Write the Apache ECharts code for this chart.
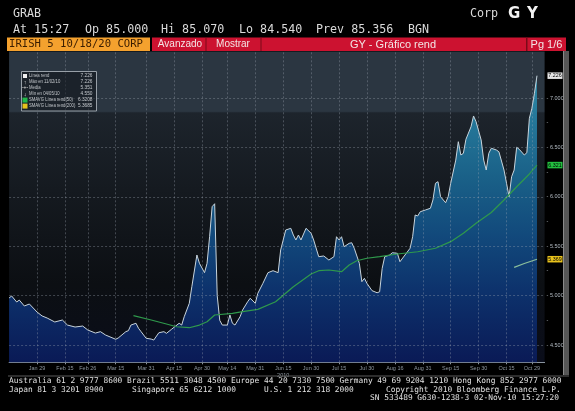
<!DOCTYPE html>
<html>
<head>
<meta charset="utf-8">
<script src="https://cdn.jsdelivr.net/npm/echarts@6/dist/echarts.min.js"></script>
<style>
  html, body { margin: 0; padding: 0; background: #000; }
  #c { width: 575px; height: 411px; }
</style>
</head>
<body>
<div id="c"></div>
<script>
// rendimiento IRISH 5 10/18/20, [fecha, valor]
const yieldPts = [
  ['01/14',4.976],['01/15',4.996],['01/19',4.935],['01/20',4.955],['01/22',4.895],['01/26',4.915],
  ['01/29',4.834],['02/02',4.794],['02/04',4.773],['02/09',4.733],['02/12',4.753],['02/16',4.702],
  ['02/19',4.682],['02/24',4.692],['02/26',4.652],['03/03',4.621],['03/05',4.635],['03/09',4.601],
  ['03/15',4.558],['03/16',4.571],['03/19',4.635],['03/22',4.645],['03/23',4.702],['03/25',4.720],
  ['03/26',4.669],['03/29',4.635],['03/31',4.568],['04/02',4.560],['04/05',4.550],['04/07',4.624],
  ['04/09',4.635],['04/12',4.618],['04/14',4.659],['04/19',4.720],['04/20',4.702],['04/21',4.786],
  ['04/23',4.922],['04/26',5.090],['04/28',5.411],['04/29',5.327],['05/03',5.232],['05/04',5.327],
  ['05/05',5.596],['05/06',5.900],['05/07',5.930],['05/10',5.000],['05/11',4.750],['05/12',4.702],
  ['05/14',4.702],['05/17',4.804],['05/18',4.720],['05/19',4.702],['05/21',4.786],['05/24',4.854],
  ['05/26',4.938],['05/27',4.973],['05/31',4.922],['06/01',5.023],['06/03',5.124],['06/07',5.232],
  ['06/09',5.252],['06/11',5.232],['06/14',5.462],['06/16',5.664],['06/18',5.681],['06/21',5.613],
  ['06/22',5.563],['06/23',5.613],['06/24',5.563],['06/28',5.681],['06/30',5.631],['07/01',5.563],
  ['07/05',5.394],['07/07',5.401],['07/09',5.360],['07/13',5.394],['07/14',5.596],['07/15',5.563],
  ['07/16',5.596],['07/19',5.495],['07/21',5.529],['07/22',5.535],['07/23',5.479],['07/27',5.327],
  ['07/28',5.141],['07/29',5.175],['07/30',5.124],['08/03',5.050],['08/05',5.029],['08/06',5.039],
  ['08/09',5.276],['08/10',5.394],['08/12',5.411],['08/13',5.434],['08/17',5.428],['08/18',5.343],
  ['08/20',5.411],['08/24',5.479],['08/25',5.596],['08/26',5.816],['08/27',5.806],['08/30',5.849],
  ['09/01',5.866],['09/03',5.884],['09/06',5.968],['09/07',6.137],['09/08',6.153],['09/09',6.001],
  ['09/13',5.940],['09/14',6.001],['09/15',6.137],['09/17',6.372],['09/20',6.558],['09/21',6.423],
  ['09/22',6.440],['09/23',6.582],['09/27',6.709],['09/28',6.818],['09/29',6.760],['10/01',6.575],
  ['10/04',6.372],['10/05',6.271],['10/06',6.440],['10/07',6.491],['10/11',6.474],['10/12',6.456],
  ['10/14',6.271],['10/15',6.137],['10/18',6.001],['10/19',6.203],['10/20',6.271],['10/21',6.501],
  ['10/22',6.481],['10/26',6.423],['10/27',6.446],['10/28',6.795],['10/29',6.896],['11/01',7.048],
  ['11/02',7.226]
];
// SMAVG (50)
const sma50Pts = [
  ['03/24',4.797],['04/02',4.753],['04/12',4.713],['04/16',4.685],['04/23',4.675],['04/29',4.702],
  ['05/04',4.736],['05/07',4.804],['05/18',4.821],['05/24',4.837],['06/01',4.861],['06/10',4.938],
  ['06/21',5.090],['06/30',5.219],['07/05',5.252],['07/09',5.259],['07/16',5.242],['07/21',5.310],
  ['07/26',5.353],['07/30',5.378],['08/06',5.394],['08/17',5.421],['08/27',5.444],['09/07',5.479],
  ['09/15',5.546],['09/22',5.631],['09/29',5.732],['10/07',5.841],['10/14',5.968],['10/21',6.102],
  ['10/28',6.231],['11/02',6.321]
];
// SMAVG (200)
const sma200Pts = [['10/20',5.286],['10/26',5.325],['11/02',5.3685]];

const tickDays = ['01/29','02/15','02/26','03/15','03/31','04/15','04/30','05/14','05/31','06/15',
  '06/30','07/15','07/30','08/16','08/31','09/15','09/30','10/15','10/29'];
const tickLabels = ['Jan 29','Feb 15','Feb 26','Mar 15','Mar 31','Apr 15','Apr 30','May 14','May 31','Jun 15\n2010',
  'Jun 30','Jul 15','Jul 30','Aug 16','Aug 31','Sep 15','Sep 30','Oct 15','Oct 29'];
const yGrid = [4.5, 5.0, 5.5, 6.0, 6.5, 7.0];

const legendRows = [
  ['Línea rend', '7.226'],
  ['Máx en 11/02/10', '7.226'],
  ['Media', '5.351'],
  ['Mín en 04/05/10', '4.550'],
  ['SMAVG Línea rend(50)', '6.3208'],
  ['SMAVG Línea rend(200)', '5.3685']
];
const endTags = ['7.226', '6.321', '5.369'];

// dias habiles 14-ene .. 05-nov 2010
const tradeDays = [];
for (let d = new Date(Date.UTC(2010, 0, 14)); d <= new Date(Date.UTC(2010, 10, 5)); d.setUTCDate(d.getUTCDate() + 1)) {
  const w = d.getUTCDay();
  if (w === 0 || w === 6) continue;
  tradeDays.push(String(d.getUTCMonth() + 1).padStart(2, '0') + '/' + String(d.getUTCDate()).padStart(2, '0'));
}

const mono = '"DejaVu Sans Mono", monospace';
const sans = '"Liberation Sans", Arial, sans-serif';

function txt(x, y, s, font, fill, align, sx) {
  return { type: 'text', x: x, y: y, z: 110, silent: true, scaleX: sx || 1,
    style: { text: s, font: font, fill: fill, align: align || 'left', verticalAlign: 'middle',
             textAlign: align || 'left', textVerticalAlign: 'middle' } };
}
function box(x, y, w, h, fill, stroke) {
  return { type: 'rect', z: 100, silent: true, shape: { x: x, y: y, width: w, height: h },
    style: { fill: fill, stroke: stroke || null, lineWidth: stroke ? 1 : 0 } };
}

const graphics = [
  // cabecera
  txt(13, 14, 'GRAB', '11.7px ' + mono, '#dadada'),
  txt(470, 14, 'Corp', '11.7px ' + mono, '#dadada'),
  txt(508, 14, 'G', 'bold 15px "DejaVu Sans"', '#f2f2f2'),
  txt(527, 14, 'Y', 'bold 15px "DejaVu Sans"', '#f2f2f2'),
  txt(13, 30, 'At 15:27', '11.7px ' + mono, '#dadada'),
  txt(85, 30, 'Op 85.000', '11.7px ' + mono, '#dadada'),
  txt(161, 30, 'Hi 85.070', '11.7px ' + mono, '#dadada'),
  txt(239, 30, 'Lo 84.540', '11.7px ' + mono, '#dadada'),
  txt(316, 30, 'Prev 85.356', '11.7px ' + mono, '#dadada'),
  txt(408, 30, 'BGN', '11.7px ' + mono, '#dadada'),
  box(0, 37, 575, 14.5, '#000'),
  box(7, 37.5, 143, 13.5, '#f4a12e'),
  txt(9, 44.5, 'IRISH 5 10/18/20 CORP', '10.6px ' + mono, '#3a1d00'),
  box(152, 37.5, 414, 13.5, '#cc1230'),
  box(205.5, 37.5, 1, 13.5, '#7a0a18'),
  box(260.5, 37.5, 1, 13.5, '#7a0a18'),
  box(526, 37.5, 1.5, 13.5, '#7a0a18'),
  txt(180, 44.5, 'Avanzado', '10px ' + sans, '#f3e6e6', 'center'),
  txt(233, 44.5, 'Mostrar', '10px ' + sans, '#f3e6e6', 'center'),
  txt(393, 44.5, 'GY - Gráfico rend', '11px ' + sans, '#f3e6e6', 'center'),
  txt(546.5, 44.5, 'Pg 1/6', '11px ' + sans, '#f3e6e6', 'center'),
  // barra derecha y borde inferior
  box(563, 51, 6, 324, '#565656'),
  box(563, 51, 1, 324, '#8a8a8a'),
  box(8, 375.5, 561, 1, '#5a5a5a'),
  // pie
  txt(9, 381, 'Australia 61 2 9777 8600 Brazil 5511 3048 4500 Europe 44 20 7330 7500 Germany 49 69 9204 1210 Hong Kong 852 2977 6000', '7.85px ' + mono, '#e2e2e2'),
  txt(9, 389.5, 'Japan 81 3 3201 8900', '7.85px ' + mono, '#e2e2e2'),
  txt(132, 389.5, 'Singapore 65 6212 1000', '7.85px ' + mono, '#e2e2e2'),
  txt(264, 389.5, 'U.S. 1 212 318 2000', '7.85px ' + mono, '#e2e2e2'),
  txt(386, 389.5, 'Copyright 2010 Bloomberg Finance L.P.', '7.85px ' + mono, '#e2e2e2'),
  txt(559, 398, 'SN 533489 G630-1238-3 02-Nov-10 15:27:20', '7.85px ' + mono, '#e2e2e2', 'right'),
  // leyenda
  box(21.5, 71.5, 75, 39.5, 'rgba(14,18,24,0.55)', '#98a0a8'),
  box(23, 74, 4, 4, '#f0f0f0'),
  txt(25, 82.3, '↑', '5.5px ' + sans, '#e0e0e0', 'center'),
  txt(25, 88.1, '-+-', '5px ' + sans, '#e0e0e0', 'center'),
  txt(25, 94, '↓', '5.5px ' + sans, '#e0e0e0', 'center'),
  box(22.5, 97.6, 5, 5, '#22b84a'),
  box(22.5, 103.6, 5, 5, '#e8c21c')
];
legendRows.forEach(function (r, i) {
  graphics.push(txt(29, 76 + i * 6, r[0], '5.3px ' + sans, '#c4c8cc', 'left', 0.8));
  graphics.push(txt(92.5, 76 + i * 6, r[1], '5.3px ' + sans, '#c4c8cc', 'right', 0.9));
});

function endTag(date, val, label, fill) {
  return {
    symbol: 'rect', symbolSize: [15, 6.5], symbolOffset: [18, 0], silent: true,
    data: [{ coord: [date, val] }],
    itemStyle: { color: fill },
    label: { show: true, position: 'inside', formatter: label, fontSize: 5.3, color: '#000', fontFamily: sans }
  };
}

const chart = echarts.init(document.getElementById('c'));
chart.setOption({
  backgroundColor: '#000',
  animation: false,
  grid: {
    left: 9.1, right: 30.4, top: 48.6, bottom: 48.7,
    show: true, borderWidth: 0, outerBoundsMode: 'none',
    backgroundColor: new echarts.graphic.LinearGradient(0, 0, 0, 1, [
      { offset: 0, color: '#2b3641' },
      { offset: 0.2, color: '#2b3641' },
      { offset: 0.205, color: '#1d242c' },
      { offset: 0.45, color: '#151a20' },
      { offset: 0.75, color: '#0c0f13' },
      { offset: 1, color: '#0a0d1a' }
    ])
  },
  xAxis: {
    type: 'category', data: tradeDays, boundaryGap: false,
    axisLine: { lineStyle: { color: '#8a949e', width: 1 } },
    axisTick: { interval: (i, v) => tickDays.includes(v), length: 2, lineStyle: { color: '#8a949e' } },
    axisLabel: {
      interval: (i, v) => tickDays.includes(v),
      formatter: v => tickLabels[tickDays.indexOf(v)] || '',
      color: '#8e97a0', fontSize: 5.5, fontFamily: sans, margin: 3, lineHeight: 7
    },
    splitLine: { show: false }
  },
  yAxis: {
    type: 'value', position: 'right', min: 4.325, max: 7.5, interval: 0.025,
    axisLine: { show: false }, axisTick: { show: false }, splitLine: { show: false },
    axisLabel: {
      margin: 2, fontSize: 5.5, fontFamily: sans, color: '#b4bcc4',
      formatter: function (v) {
        if (v > 7.2) return '';
        if (Math.abs(v * 2 - Math.round(v * 2)) < 1e-6) return '- ' + v.toFixed(3);
        if (Math.abs(v * 4 - Math.round(v * 4)) < 1e-6) return '-';
        return '';
      }
    }
  },
  series: [
    {
      name: 'Línea rend', type: 'line', data: yieldPts, symbol: 'none', z: 2,
      lineStyle: { color: '#c8d4dc', width: 1 },
      areaStyle: {
        color: new echarts.graphic.LinearGradient(0, 0, 0, 1, [
          { offset: 0, color: '#2f8aa6' },
          { offset: 0.15, color: '#25789a' },
          { offset: 0.35, color: '#1a6188' },
          { offset: 0.55, color: '#124a7c' },
          { offset: 0.75, color: '#0d326c' },
          { offset: 1, color: '#0a1a56' }
        ]), opacity: 1
      },
      markLine: {
        silent: true, symbol: ['none', 'none'], label: { show: false }, z: 5,
        lineStyle: { color: 'rgba(160,170,180,0.35)', type: [2, 2], width: 1 },
        data: yGrid.map(v => ({ yAxis: v })).concat(tickDays.map(d => ({ xAxis: d })))
      },
      markPoint: endTag('11/02', 7.226, endTags[0], '#e6e6e6')
    },
    {
      name: 'SMAVG Línea rend(50)', type: 'line', data: sma50Pts, symbol: 'none', z: 3,
      lineStyle: { color: '#2f9a4c', width: 1.2 },
      markPoint: endTag('11/02', 6.321, endTags[1], '#22c040')
    },
    {
      name: 'SMAVG Línea rend(200)', type: 'line', data: sma200Pts, symbol: 'none', z: 3,
      lineStyle: { color: '#8cc09c', width: 1.2 },
      markPoint: endTag('11/02', 5.3685, endTags[2], '#e8c21c')
    }
  ],
  graphic: graphics
});
</script>
</body>
</html>
